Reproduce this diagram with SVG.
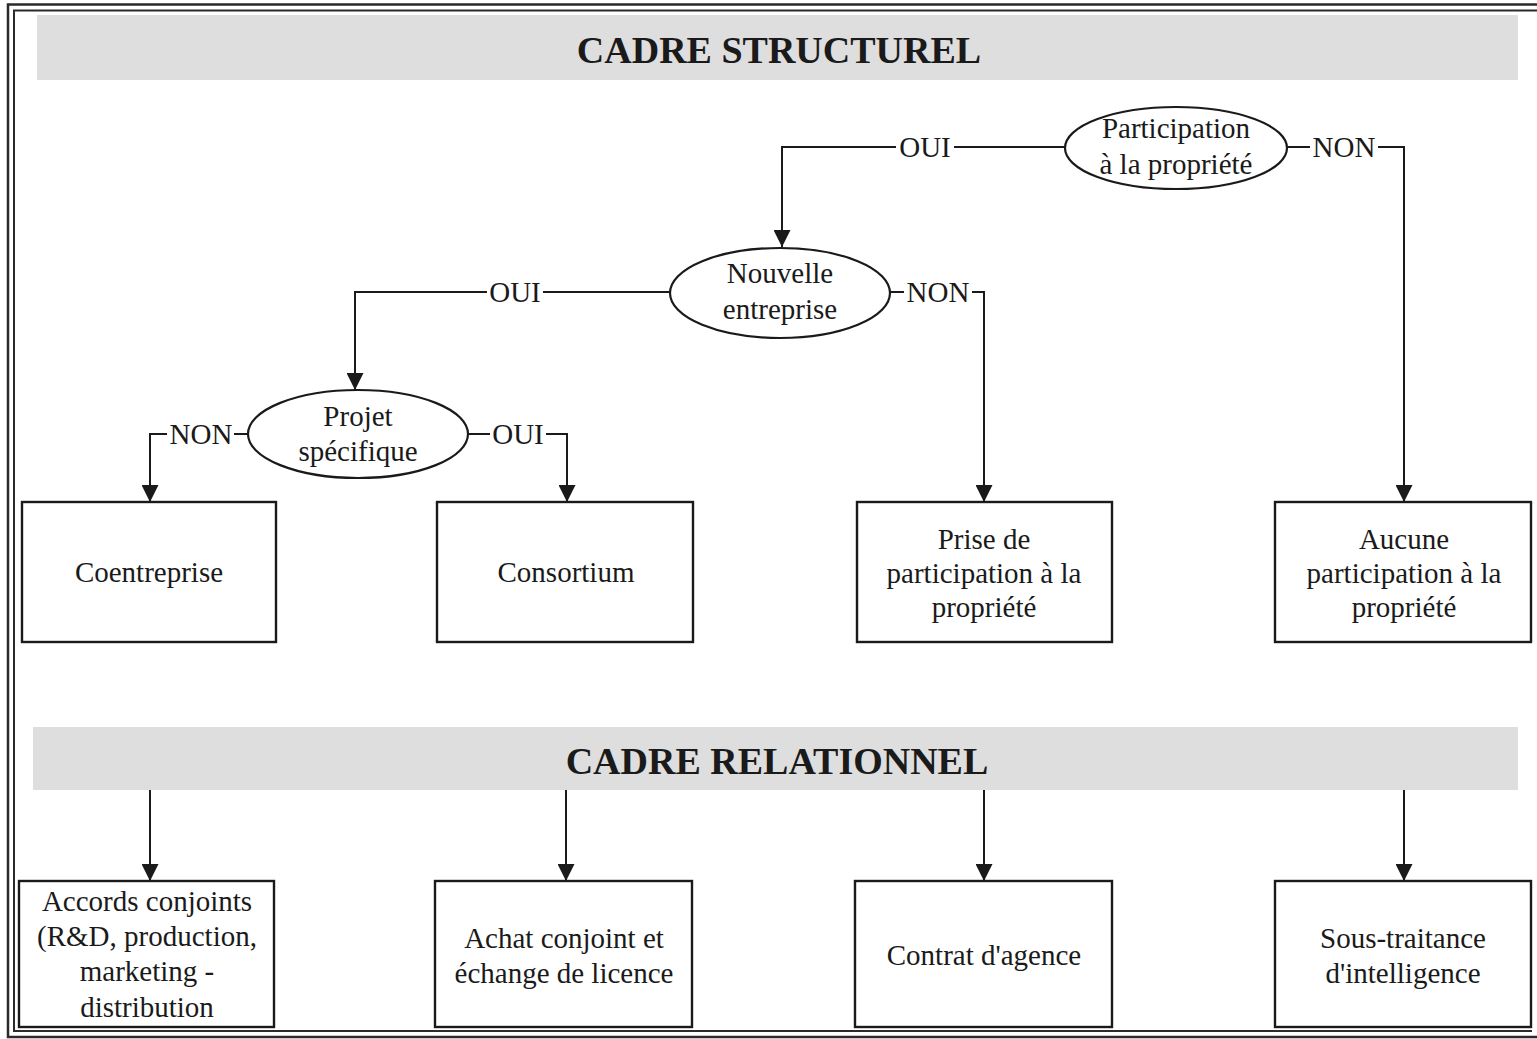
<svg xmlns="http://www.w3.org/2000/svg" width="1537" height="1039" viewBox="0 0 1537 1039">
  <defs>
    <marker id="arrow" viewBox="0 0 17 17" refX="17" refY="8.5" markerWidth="17" markerHeight="17" markerUnits="userSpaceOnUse" orient="auto">
      <path d="M0,0 L17,8.5 L0,17 Z" fill="#1a1a1a"/>
    </marker>
  </defs>
  <style>
    text { font-family: "Liberation Serif", "Times New Roman", serif; fill: #1a1a1a; }
    .t { font-size: 29px; text-anchor: middle; }
    .lbl { font-size: 29px; text-anchor: middle; }
    .title { font-size: 38px; font-weight: bold; text-anchor: middle; }
    .band { fill: #dedede; }
    .box { fill: #ffffff; stroke: #1a1a1a; stroke-width: 2.4; }
    .ell { fill: #ffffff; stroke: #1a1a1a; stroke-width: 2.2; }
    .wire { fill: none; stroke: #1a1a1a; stroke-width: 2; }
    .frame { fill: none; stroke: #2a2a2a; }
  </style>

  <rect width="1537" height="1039" fill="#ffffff"/>

  <!-- double page frame -->
  <path class="frame" stroke-width="2.5" d="M1537,4.5 H8 V1037 H1537"/>
  <path class="frame" stroke-width="2" d="M1537,10.5 H14 V1031 H1532"/>

  <!-- section headers -->
  <g id="header-structurel">
    <rect class="band" x="37" y="15" width="1481" height="65"/>
    <text class="title" x="779" y="63">CADRE STRUCTUREL</text>
  </g>
  <g id="header-relationnel">
    <rect class="band" x="33" y="727" width="1485" height="63"/>
    <text class="title" x="777" y="774">CADRE RELATIONNEL</text>
  </g>

  <!-- connectors -->
  <g id="connectors">
    <!-- Participation à la propriété -->
    <path class="wire" d="M1065,147 H954"/>
    <path class="wire" d="M896,147 H782 V247" marker-end="url(#arrow)"/>
    <text class="lbl" x="925" y="157">OUI</text>
    <path class="wire" d="M1287,147 H1310"/>
    <path class="wire" d="M1378,147 H1404 V502" marker-end="url(#arrow)"/>
    <text class="lbl" x="1344" y="157">NON</text>

    <!-- Nouvelle entreprise -->
    <path class="wire" d="M670,292 H543"/>
    <path class="wire" d="M487,292 H355 V390" marker-end="url(#arrow)"/>
    <text class="lbl" x="515" y="302">OUI</text>
    <path class="wire" d="M890,292 H904"/>
    <path class="wire" d="M972,292 H984 V502" marker-end="url(#arrow)"/>
    <text class="lbl" x="938" y="302">NON</text>

    <!-- Projet spécifique -->
    <path class="wire" d="M248,434 H234"/>
    <path class="wire" d="M167,434 H150 V502" marker-end="url(#arrow)"/>
    <text class="lbl" x="201" y="444">NON</text>
    <path class="wire" d="M467,434 H490"/>
    <path class="wire" d="M546,434 H567 V502" marker-end="url(#arrow)"/>
    <text class="lbl" x="518" y="444">OUI</text>

    <!-- Cadre relationnel -->
    <path class="wire" d="M150,790 V881" marker-end="url(#arrow)"/>
    <path class="wire" d="M566,790 V881" marker-end="url(#arrow)"/>
    <path class="wire" d="M984,790 V881" marker-end="url(#arrow)"/>
    <path class="wire" d="M1404,790 V881" marker-end="url(#arrow)"/>
  </g>

  <!-- decision nodes -->
  <g id="participation">
    <ellipse class="ell" cx="1176" cy="148" rx="111" ry="41"/>
    <text class="t" x="1176" y="138">Participation</text>
    <text class="t" x="1176" y="174">à la propriété</text>
  </g>
  <g id="nouvelle-entreprise">
    <ellipse class="ell" cx="780" cy="293" rx="110" ry="45"/>
    <text class="t" x="780" y="283">Nouvelle</text>
    <text class="t" x="780" y="319">entreprise</text>
  </g>
  <g id="projet-specifique">
    <ellipse class="ell" cx="358" cy="434" rx="110" ry="44"/>
    <text class="t" x="358" y="426">Projet</text>
    <text class="t" x="358" y="461">spécifique</text>
  </g>

  <!-- structural outcomes -->
  <g id="coentreprise">
    <rect class="box" x="22" y="502" width="254" height="140"/>
    <text class="t" x="149" y="582">Coentreprise</text>
  </g>
  <g id="consortium">
    <rect class="box" x="437" y="502" width="256" height="140"/>
    <text class="t" x="566" y="582">Consortium</text>
  </g>
  <g id="prise-participation">
    <rect class="box" x="857" y="502" width="255" height="140"/>
    <text class="t" x="984" y="549">Prise de</text>
    <text class="t" x="984" y="583">participation à la</text>
    <text class="t" x="984" y="617">propriété</text>
  </g>
  <g id="aucune-participation">
    <rect class="box" x="1275" y="502" width="256" height="140"/>
    <text class="t" x="1404" y="549">Aucune</text>
    <text class="t" x="1404" y="583">participation à la</text>
    <text class="t" x="1404" y="617">propriété</text>
  </g>

  <!-- relational outcomes -->
  <g id="accords-conjoints">
    <rect class="box" x="19" y="881" width="255" height="146"/>
    <text class="t" x="147" y="911">Accords conjoints</text>
    <text class="t" x="147" y="946">(R&amp;D, production,</text>
    <text class="t" x="147" y="981">marketing -</text>
    <text class="t" x="147" y="1017">distribution</text>
  </g>
  <g id="achat-conjoint">
    <rect class="box" x="435" y="881" width="257" height="146"/>
    <text class="t" x="564" y="948">Achat conjoint et</text>
    <text class="t" x="564" y="983">échange de licence</text>
  </g>
  <g id="contrat-agence">
    <rect class="box" x="855" y="881" width="257" height="146"/>
    <text class="t" x="984" y="965">Contrat d'agence</text>
  </g>
  <g id="sous-traitance">
    <rect class="box" x="1275" y="881" width="256" height="146"/>
    <text class="t" x="1403" y="948">Sous-traitance</text>
    <text class="t" x="1403" y="983">d'intelligence</text>
  </g>
</svg>
